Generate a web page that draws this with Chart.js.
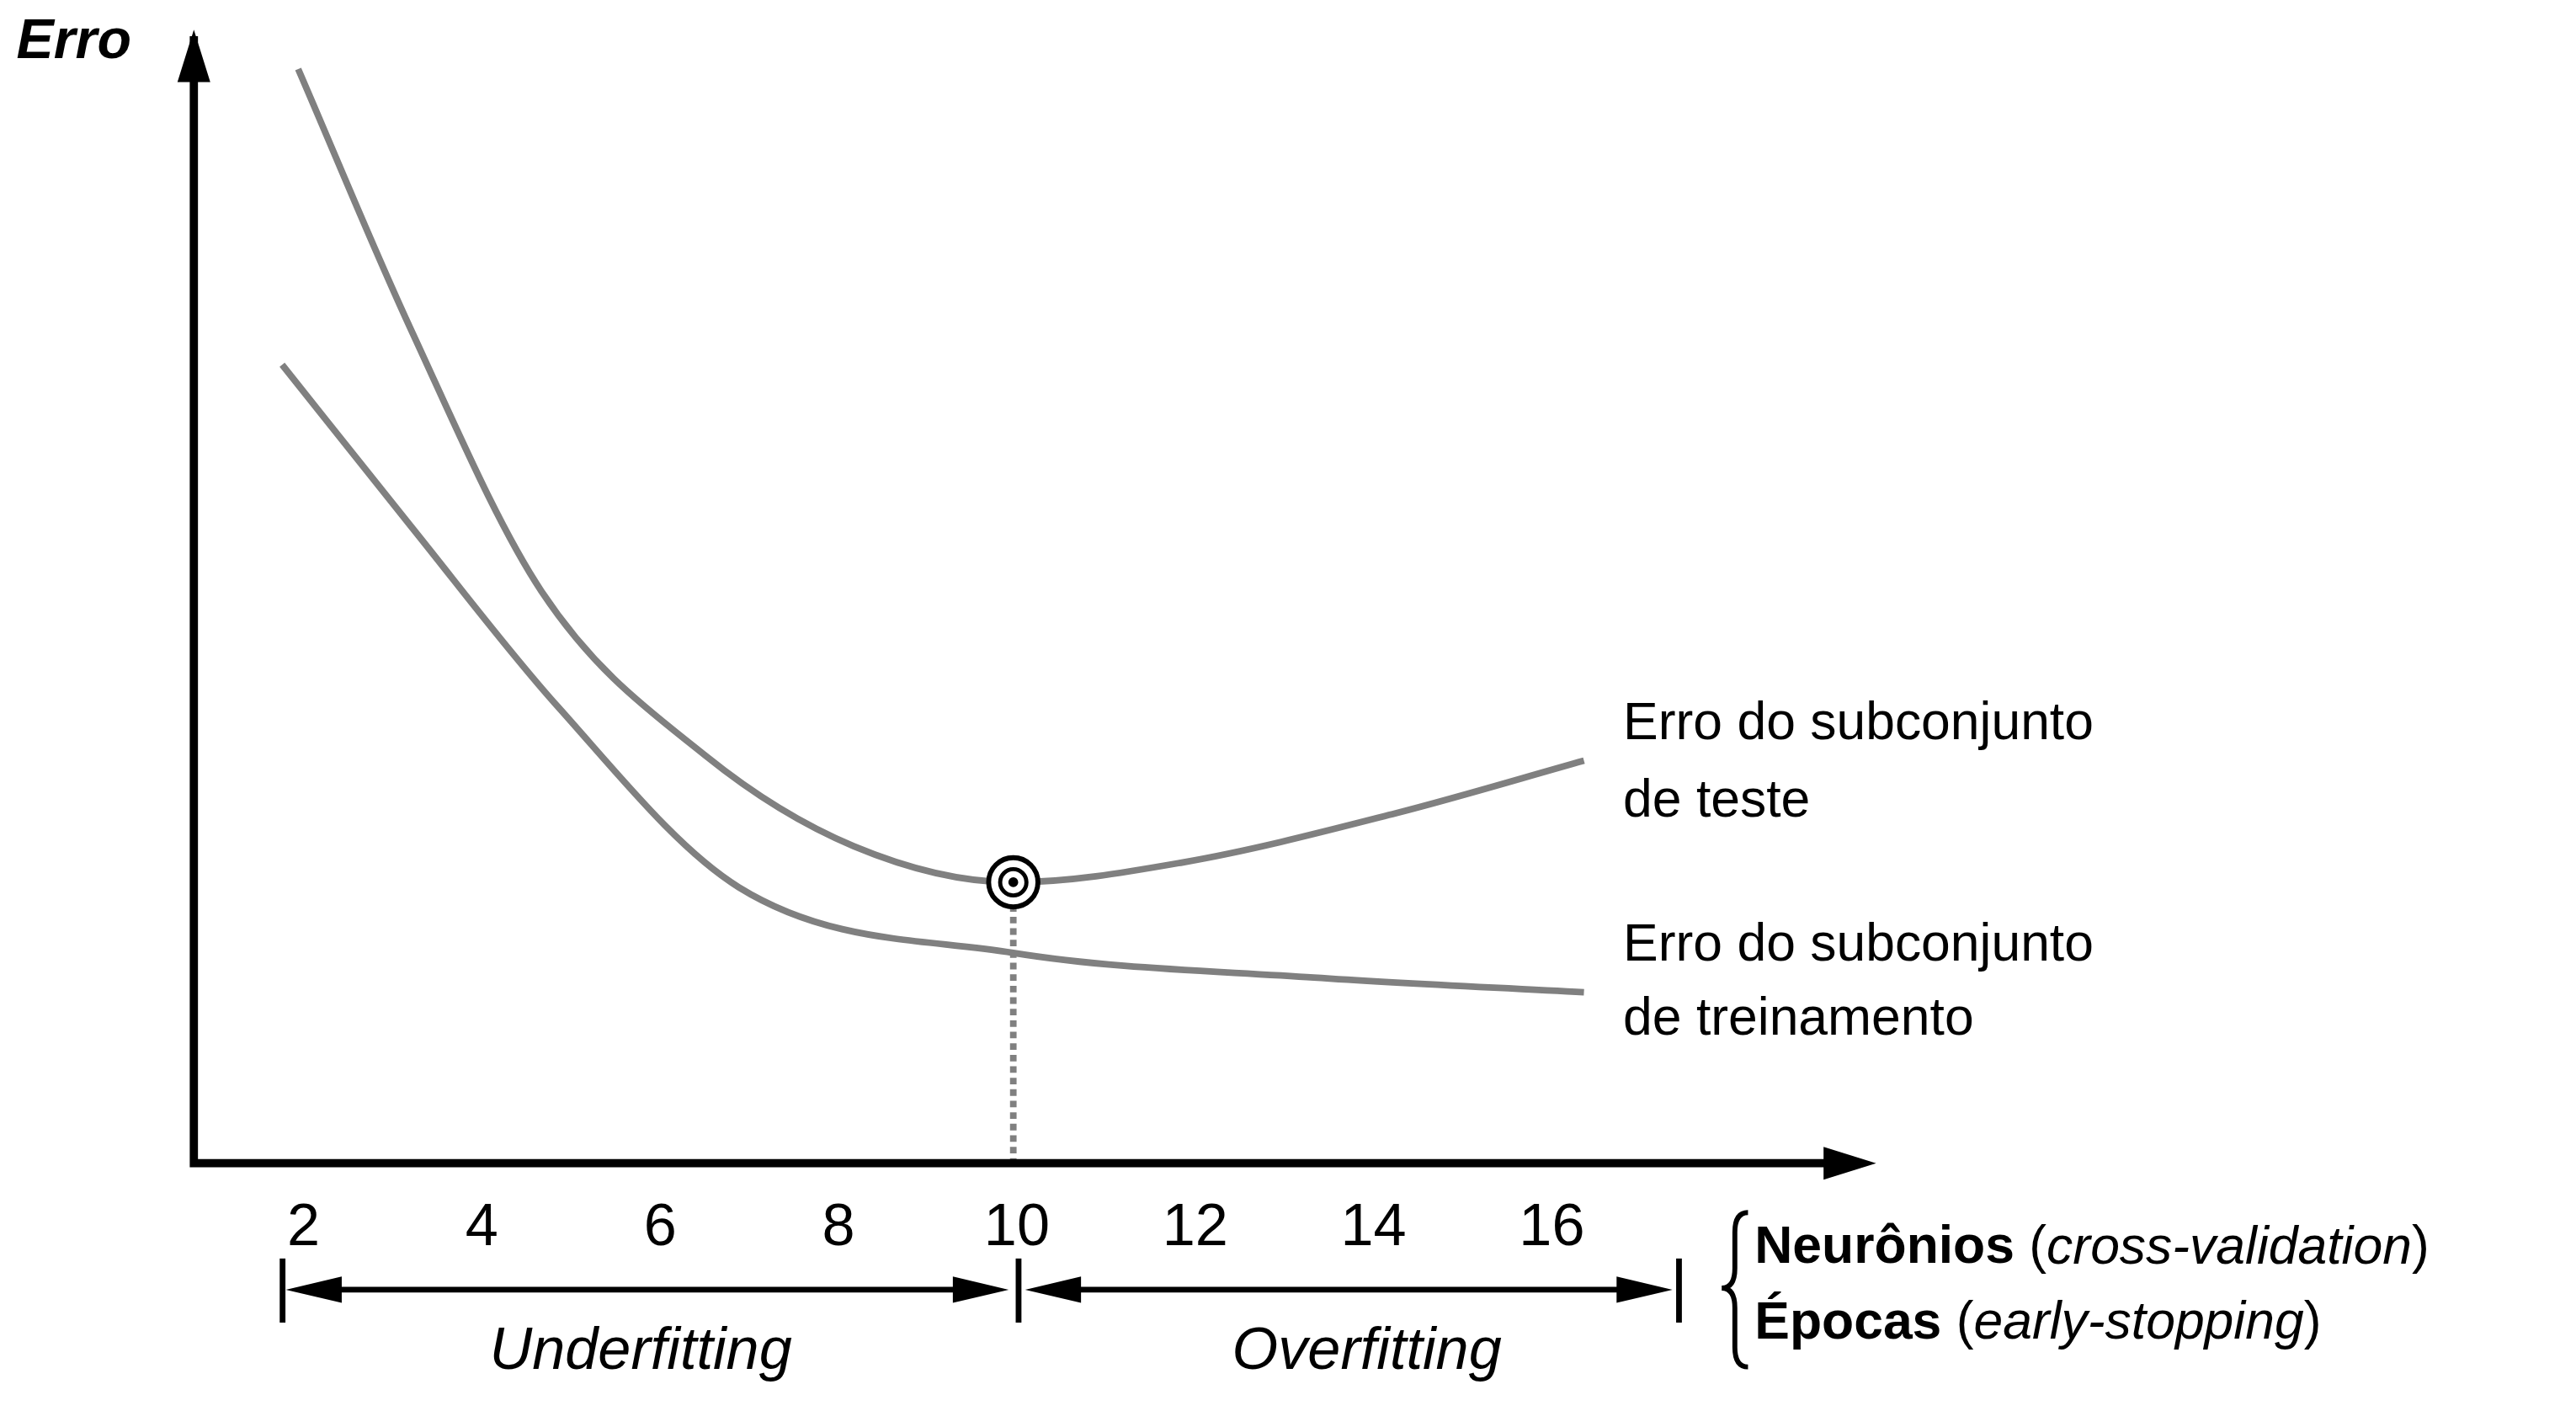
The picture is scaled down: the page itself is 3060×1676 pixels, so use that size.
<!DOCTYPE html>
<html><head><meta charset="utf-8">
<script src="https://cdn.jsdelivr.net/npm/chart.js@4"></script>
<style>html,body{margin:0;background:#fff}#wrap{width:3060px;height:1676px}</style>
</head><body><div id="wrap"><canvas id="c"></canvas></div>
<script>
// values (x = neurônios/épocas, y = erro)
const testX = [1.94, 3.2, 4.67, 6.51, 8.17, 9.96, 11.85, 14.25, 16.36];
const testY = [666, 508, 348, 248, 193, 171, 183, 213, 245];
const trainX = [1.76, 3.2, 4.85, 6.88, 9.96, 13.33, 16.36];
const trainY = [486, 388, 278, 168, 128, 113, 104];
const tickValues = [2, 4, 6, 8, 10, 12, 14, 16];
const bestX = 9.96, bestY = 171;

const S = 3060 / 1568;
const F = 'Liberation Sans, Arial, sans-serif';

const deco = {
  id: 'deco',
  afterDraw(chart) {
    const c = chart.ctx, xs = chart.scales.x, ys = chart.scales.y, a = chart.chartArea;
    const px = v => xs.getPixelForValue(v), py = v => ys.getPixelForValue(v);
    c.save();
    // dotted line from optimum
    c.strokeStyle = '#808080'; c.lineWidth = 4 * S; c.setLineDash([4 * S, 3 * S]);
    c.beginPath(); c.moveTo(px(bestX), py(bestY) + 14 * S); c.lineTo(px(bestX), a.bottom); c.stroke();
    c.setLineDash([]);
    // target
    c.strokeStyle = '#000'; c.lineWidth = 3 * S;
    c.fillStyle = '#fff';
    c.beginPath(); c.arc(px(bestX), py(bestY), 15 * S, 0, 7); c.fill(); c.stroke();
    c.lineWidth = 2.5 * S;
    c.beginPath(); c.arc(px(bestX), py(bestY), 8 * S, 0, 7); c.stroke();
    c.fillStyle = '#000';
    c.beginPath(); c.arc(px(bestX), py(bestY), 3 * S, 0, 7); c.fill();
    // axes
    c.lineWidth = 5 * S; c.strokeStyle = '#000';
    c.beginPath(); c.moveTo(a.left, 22 * S); c.lineTo(a.left, a.bottom); c.lineTo(a.right - 10 * S, a.bottom); c.stroke();
    const head = (x, y, dir, len, w) => {
      c.beginPath();
      if (dir === 'up') { c.moveTo(x, y); c.lineTo(x - w, y + len); c.lineTo(x + w, y + len); }
      if (dir === 'right') { c.moveTo(x, y); c.lineTo(x - len, y - w); c.lineTo(x - len, y + w); }
      if (dir === 'left') { c.moveTo(x, y); c.lineTo(x + len, y - w); c.lineTo(x + len, y + w); }
      c.closePath(); c.fill();
    };
    head(a.left, 18 * S, 'up', 32 * S, 10 * S);
    head(a.right + 2 * S, a.bottom, 'right', 32 * S, 10 * S);
    // tick labels
    c.font = `${36 * S}px ${F}`; c.textAlign = 'center'; c.textBaseline = 'middle';
    tickValues.forEach(v => c.fillText(String(v), px(v), 748 * S));
    // under/overfitting arrows
    const ay = 785 * S, x1 = 172 * S, x2 = 620 * S, x3 = 1022 * S;
    c.lineWidth = 3.5 * S;
    [x1, x2, x3].forEach(x => { c.beginPath(); c.moveTo(x, 766 * S); c.lineTo(x, 805 * S); c.stroke(); });
    c.beginPath(); c.moveTo(x1 + 20 * S, ay); c.lineTo(x2 - 26 * S, ay); c.moveTo(x2 + 26 * S, ay); c.lineTo(x3 - 26 * S, ay); c.stroke();
    head(x1 + 2 * S, ay, 'left', 34 * S, 8 * S);
    head(x2 - 6 * S, ay, 'right', 34 * S, 8 * S);
    head(x2 + 4 * S, ay, 'left', 34 * S, 8 * S);
    head(x3 - 4 * S, ay, 'right', 34 * S, 8 * S);
    c.font = `italic ${36 * S}px ${F}`;
    c.fillText('Underfitting', 390 * S, 823 * S);
    c.fillText('Overfitting', 832 * S, 823 * S);
    // brace
    c.lineWidth = 3 * S;
    const bx = 1056 * S;
    c.beginPath();
    c.moveTo(bx + 8 * S, 738 * S);
    c.quadraticCurveTo(bx, 738 * S, bx, 750 * S);
    c.lineTo(bx, 772 * S); c.quadraticCurveTo(bx, 784 * S, bx - 8 * S, 784 * S);
    c.quadraticCurveTo(bx, 784 * S, bx, 796 * S);
    c.lineTo(bx, 820 * S); c.quadraticCurveTo(bx, 832 * S, bx + 8 * S, 832 * S);
    c.stroke();
    // right labels
    c.textAlign = 'left';
    const mixed = (parts, x, y) => {
      parts.forEach(([t, f]) => { c.font = `${f} ${32 * S}px ${F}`; c.fillText(t, x, y); x += c.measureText(t).width; });
    };
    mixed([['Neurônios', 'bold'], [' (', ''], ['cross-validation', 'italic'], [')', '']], 1068 * S, 760 * S);
    mixed([['Épocas', 'bold'], [' (', ''], ['early-stopping', 'italic'], [')', '']], 1068 * S, 806 * S);
    c.font = `${32 * S}px ${F}`;
    c.fillText('Erro do subconjunto', 988 * S, 441 * S);
    c.fillText('de teste', 988 * S, 488 * S);
    c.fillText('Erro do subconjunto', 988 * S, 576 * S);
    c.fillText('de treinamento', 988 * S, 621 * S);
    c.font = `italic bold ${34 * S}px ${F}`;
    c.fillText('Erro', 10 * S, 26 * S);
    c.restore();
  }
};

const toPts = (xs, ys) => xs.map((x, i) => ({ x, y: ys[i] }));
new Chart(document.getElementById('c'), {
  type: 'line',
  data: {
    datasets: [
      { data: toPts(testX, testY), borderColor: '#808080', borderWidth: 4 * S, pointRadius: 0, cubicInterpolationMode: 'monotone' },
      { data: toPts(trainX, trainY), borderColor: '#808080', borderWidth: 4 * S, pointRadius: 0, cubicInterpolationMode: 'monotone' }
    ]
  },
  options: {
    responsive: true, maintainAspectRatio: false, animation: false,
    layout: { padding: { left: 118 * S, right: 3060 - 1140 * S, top: 20 * S, bottom: 1676 - 708 * S } },
    plugins: { legend: { display: false }, tooltip: { enabled: false } },
    scales: {
      x: { type: 'linear', display: false, min: 0.77, max: 19.6 },
      y: { display: false, min: 0, max: 688 }
    }
  },
  plugins: [deco]
});
</script></body></html>
